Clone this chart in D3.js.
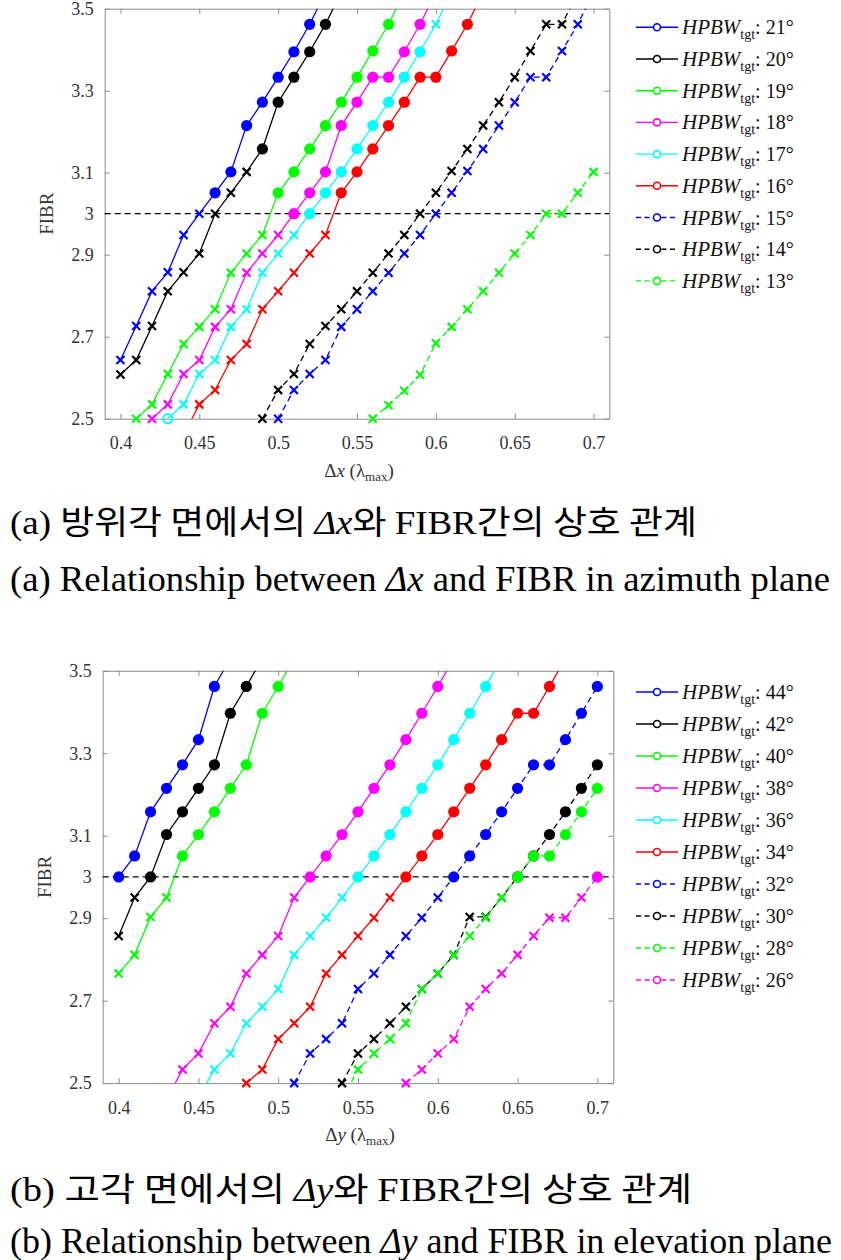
<!DOCTYPE html>
<html><head><meta charset="utf-8">
<script src="https://cdn.jsdelivr.net/npm/d3@7"></script>
<style>body{margin:0;background:#fff} svg{display:block}</style>
</head><body>
<svg id="c" width="841" height="1260"></svg>
<script>
// ---------- shared axis data ----------
const xGrid = [0.39,0.40,0.41,0.42,0.43,0.44,0.45,0.46,0.47,0.48,0.49,0.50,0.51,0.52,0.53,0.54,0.55,0.56,0.57,0.58,0.59,0.60,0.61,0.62,0.63,0.64,0.65,0.66,0.67,0.68,0.69,0.70,0.71];
const xTicks = [0.4,0.45,0.5,0.55,0.6,0.65,0.7];
const xTickLabels = ["0.4","0.45","0.5","0.55","0.6","0.65","0.7"];
const yTicks = [2.5,2.7,2.9,3,3.1,3.3,3.5];
const yTickLabels = ["2.5","2.7","2.9","3","3.1","3.3","3.5"];
const threshold = 3;

// ---------- (a) azimuth plane: HPBW_tgt 21..13 ----------
const azNames = ["21°","20°","19°","18°","17°","16°","15°","14°","13°"];
const azStartX = [0.40,0.40,0.41,0.42,0.43,0.44,0.50,0.49,0.56];
const az21 = [2.643,2.726,2.811,2.857,2.948,3.0,3.051,3.102,3.215,3.272,3.333,3.395,3.462,3.54];
const az20 = [2.608,2.643,2.726,2.811,2.857,2.903,3.0,3.051,3.102,3.158,3.272,3.333,3.395,3.462,3.54];
const az19 = [2.5,2.535,2.609,2.682,2.724,2.767,2.856,2.903,2.948,3.051,3.102,3.158,3.215,3.272,3.333,3.397,3.462,3.54];
const az18 = [2.5,2.535,2.609,2.643,2.724,2.767,2.856,2.903,2.948,3.0,3.051,3.102,3.215,3.272,3.333,3.333,3.395,3.462,3.54];
const az17 = [2.5,2.535,2.609,2.643,2.724,2.767,2.856,2.903,2.948,3.0,3.051,3.102,3.158,3.215,3.272,3.333,3.395,3.462,3.54];
const az16 = [2.46,2.535,2.570,2.643,2.682,2.767,2.811,2.856,2.903,2.948,3.051,3.102,3.158,3.215,3.272,3.333,3.333,3.397,3.462,3.54];
const az15 = [2.5,2.570,2.609,2.643,2.724,2.767,2.811,2.856,2.903,2.948,3.0,3.051,3.104,3.158,3.215,3.272,3.333,3.333,3.397,3.462,3.54];
const az14 = [2.5,2.570,2.609,2.682,2.726,2.767,2.811,2.856,2.903,2.948,3.0,3.051,3.104,3.158,3.215,3.272,3.333,3.397,3.462,3.462,3.54];
const az13 = [2.5,2.533,2.568,2.607,2.684,2.724,2.767,2.811,2.856,2.903,2.948,3.0,3.0,3.051,3.102];
const azMarks = [
  "xxxxxxoooooooo",
  "xxxxxxxxxoooooo",
  "xxxxxxxxxooooooooo",
  "xxxxxxxxxoooooooooo",
  "cxxxxxxxxooooooooxx",
  "xxxxxxxxxxoooooooooo",
  "xxxxxxxxxxxxxxxxxxxxx",
  "xxxxxxxxxxxxxxxxxxxxx",
  "xxxxxxxxxxxxxxx"
];

// ---------- (b) elevation plane: HPBW_tgt 44..26 ----------
const elNames = ["44°","42°","40°","38°","36°","34°","32°","30°","28°","26°"];
const elStartX = [0.40,0.40,0.40,0.43,0.45,0.48,0.51,0.54,0.54,0.58];
const el44 = [3.0,3.051,3.158,3.215,3.272,3.333,3.462,3.53];
const el42 = [2.857,2.950,3.0,3.103,3.158,3.215,3.272,3.397,3.462,3.53];
const el40 = [2.766,2.811,2.903,2.950,3.051,3.103,3.158,3.215,3.272,3.397,3.462,3.53];
const el38 = [2.46,2.533,2.572,2.645,2.685,2.766,2.811,2.857,2.950,3.0,3.051,3.103,3.158,3.215,3.272,3.333,3.397,3.462,3.53];
const el36 = [2.465,2.533,2.572,2.645,2.685,2.728,2.811,2.857,2.901,2.950,3.0,3.051,3.103,3.158,3.215,3.272,3.333,3.397,3.462,3.53];
const el34 = [2.5,2.533,2.607,2.645,2.685,2.766,2.811,2.857,2.901,2.950,3.0,3.051,3.103,3.158,3.215,3.272,3.333,3.397,3.397,3.462,3.53];
const el32 = [2.5,2.572,2.607,2.645,2.728,2.766,2.811,2.857,2.901,2.950,3.0,3.051,3.103,3.158,3.215,3.272,3.272,3.333,3.397,3.462];
const el30 = [2.5,2.572,2.607,2.645,2.685,2.728,2.766,2.811,2.903,2.903,2.950,3.0,3.051,3.103,3.158,3.215,3.272];
const el28 = [2.46,2.533,2.572,2.607,2.645,2.728,2.766,2.811,2.857,2.901,2.950,3.0,3.051,3.051,3.103,3.158,3.215];
const el26 = [2.5,2.533,2.572,2.607,2.685,2.728,2.766,2.811,2.857,2.901,2.901,2.950,3.0];
const elMarks = [
  "oooooooo",
  "xxoooooooo",
  "xxxxoooooooo",
  "xxxxxxxxxoooooooooo",
  "xxxxxxxxxxoooooooooo",
  "xxxxxxxxxxooooooooooo",
  "xxxxxxxxxxoooooooooo",
  "xxxxxxxxxxxoooooo",
  "xxxxxxxxxxxoooooo",
  "xxxxxxxxxxxxo"
];

const seriesColors = ["#0000ff","#000000","#00ff00","#ff00ff","#00ffff","#ff0000","#0000ff","#000000","#00ff00","#ff00ff"];
const seriesDashed = [false,false,false,false,false,false,true,true,true,true];

const svg = d3.select("#c");
const SERIF = "'Liberation Serif','Times New Roman',serif";
const KR = "'Noto Sans CJK KR','Noto Sans',sans-serif";

function buildSeries(startXs, ys, marks){
  return ys.map((arr,i)=>{
    const i0 = xGrid.findIndex(v=>Math.abs(v-startXs[i])<1e-9);
    const xs = xGrid.slice(i0, i0+arr.length);
    return arr.map((y,j)=>({x:xs[j], y:y, m:marks[i][j]}));
  });
}

function drawPanel(cfg){
  const x = d3.scaleLinear().domain([0.39,0.71]).range([cfg.left,cfg.right]);
  const y = d3.scaleLinear().domain([2.5,3.5]).range([cfg.bottom,cfg.top]);
  const g = svg.append("g");
  const clipId = "clip"+cfg.id;
  g.append("clipPath").attr("id",clipId).append("rect")
    .attr("x",cfg.left).attr("y",cfg.top).attr("width",cfg.right-cfg.left).attr("height",cfg.bottom-cfg.top);

  // axes frame with inward ticks
  const axCol = "#8a8a8a";
  const tl = 5;
  const mk = (axis, tr) => {
    const a = g.append("g").attr("transform",tr).call(axis);
    a.select(".domain").attr("stroke",axCol);
    a.selectAll(".tick line").attr("stroke",axCol);
    return a;
  };
  const tickY = yTicks.filter(v=>v!==threshold);
  const bx = mk(d3.axisBottom(x).tickValues(xTicks).tickSizeInner(-tl).tickSizeOuter(0).tickFormat((d,i)=>xTickLabels[i]), `translate(0,${cfg.bottom})`);
  bx.selectAll("text").attr("font-family",SERIF).attr("font-size",18).attr("fill","#333").attr("y",18);
  mk(d3.axisTop(x).tickValues(xTicks).tickSizeInner(-tl).tickSizeOuter(0).tickFormat(""), `translate(0,${cfg.top})`);
  const ly = mk(d3.axisLeft(y).tickValues(yTicks).tickSizeInner(-tl).tickSizeOuter(0).tickFormat((d,i)=>yTickLabels[i]), `translate(${cfg.left},0)`);
  ly.selectAll("text").attr("font-family",SERIF).attr("font-size",18).attr("fill","#333").attr("x",-11);
  ly.selectAll(".tick").filter(d=>d===threshold).select("line").remove();
  mk(d3.axisRight(y).tickValues(tickY).tickSizeInner(-tl).tickSizeOuter(0).tickFormat(""), `translate(${cfg.right},0)`);

  // threshold line
  g.append("line").attr("x1",cfg.left).attr("x2",cfg.right).attr("y1",y(threshold)).attr("y2",y(threshold))
    .attr("stroke","#000").attr("stroke-width",1.3).attr("stroke-dasharray","6,4");

  const data = buildSeries(cfg.startX, cfg.ys, cfg.marks);
  const line = d3.line().x(d=>x(d.x)).y(d=>y(d.y));
  data.forEach((s,i)=>{
    const col = seriesColors[i];
    g.append("path").datum(s).attr("clip-path",`url(#${clipId})`)
      .attr("d",line).attr("fill","none").attr("stroke",col).attr("stroke-width",1.3)
      .attr("stroke-dasharray",seriesDashed[i]?"6,4":null);
    const pts = s.filter(d=>d.y>=2.499 && d.y<=3.501);
    pts.forEach(d=>{
      const px=x(d.x), py=y(d.y);
      if(d.m==="o"){
        g.append("circle").attr("cx",px).attr("cy",py).attr("r",5.6).attr("fill",col);
      } else if(d.m==="c"){
        g.append("circle").attr("cx",px).attr("cy",py).attr("r",4.6).attr("fill","none").attr("stroke",col).attr("stroke-width",2);
      } else {
        const r=4;
        g.append("path").attr("d",`M${px-r},${py-r}L${px+r},${py+r}M${px-r},${py+r}L${px+r},${py-r}`)
          .attr("stroke",col).attr("stroke-width",2.2).attr("fill","none");
      }
    });
  });

  // axis labels
  g.append("text").attr("transform",`translate(${cfg.left-52},${(cfg.top+cfg.bottom)/2}) rotate(-90)`)
    .attr("text-anchor","middle").attr("font-family",SERIF).attr("font-size",19).attr("fill","#333").text("FIBR");
  const xl = g.append("text").attr("x",(cfg.left+cfg.right)/2+2).attr("y",cfg.bottom+58)
    .attr("text-anchor","middle").attr("font-family",SERIF).attr("font-size",19).attr("fill","#333");
  xl.append("tspan").text("Δ");
  xl.append("tspan").attr("font-style","italic").text(cfg.varName);
  xl.append("tspan").text(" (λ");
  xl.append("tspan").attr("font-size",13).attr("dy",4).text("max");
  xl.append("tspan").attr("dy",-4).text(")");

  // legend
  cfg.names.forEach((nm,i)=>{
    const ry0 = cfg.legY + i*cfg.legStep;
    const col = seriesColors[i];
    g.append("line").attr("x1",636).attr("x2",678).attr("y1",ry0).attr("y2",ry0)
      .attr("stroke",col).attr("stroke-width",1.4).attr("stroke-dasharray",seriesDashed[i]?"5,3.5":null);
    g.append("circle").attr("cx",657).attr("cy",ry0).attr("r",3.5).attr("fill","#fff").attr("stroke",col).attr("stroke-width",1.6);
    const t = g.append("text").attr("x",682).attr("y",ry0+7).attr("font-family",SERIF).attr("font-size",20).attr("fill","#111");
    t.append("tspan").attr("font-style","italic").attr("font-size",21).text("HPBW");
    t.append("tspan").attr("font-size",14).attr("dy",5).text("tgt");
    t.append("tspan").attr("dy",-5).text(": "+nm);
  });
}

drawPanel({id:"a", left:104.7, right:609.3, top:8.7, bottom:418.7, startX:azStartX,
  ys:[az21,az20,az19,az18,az17,az16,az15,az14,az13], marks:azMarks, names:azNames, varName:"x",
  legY:27.3, legStep:31.7});
drawPanel({id:"b", left:102.7, right:613.3, top:670.8, bottom:1083.1, startX:elStartX,
  ys:[el44,el42,el40,el38,el36,el34,el32,el30,el28,el26], marks:elMarks, names:elNames, varName:"y",
  legY:692, legStep:32});

// captions
function caption(yy, parts, len, font, size){
  const t = svg.append("text").attr("x",10).attr("y",yy).attr("font-family",font).attr("font-size",size)
    .attr("fill","#000").attr("textLength",len).attr("lengthAdjust","spacingAndGlyphs");
  parts.forEach(p=>{
    const s=t.append("tspan").text(p[0]);
    if(p[1]) s.attr("font-style","italic").attr("font-family",SERIF);
    if(p[2]) s.attr("font-family",SERIF);
  });
}
caption(534, [["(a) ",0,1],["방위각 면에서의 "],["Δx",1],["와 "],["FIBR",0,1],["간의 상호 관계"]], 687, KR, 33);
caption(591, [["(a) Relationship between "],["Δx",1],[" and FIBR in azimuth plane"]], 820, SERIF, 36);
caption(1201, [["(b) ",0,1],["고각 면에서의 "],["Δy",1],["와 "],["FIBR",0,1],["간의 상호 관계"]], 682, KR, 33);
caption(1253, [["(b) Relationship between "],["Δy",1],[" and FIBR in elevation plane"]], 822, SERIF, 36);
</script>
</body></html>
